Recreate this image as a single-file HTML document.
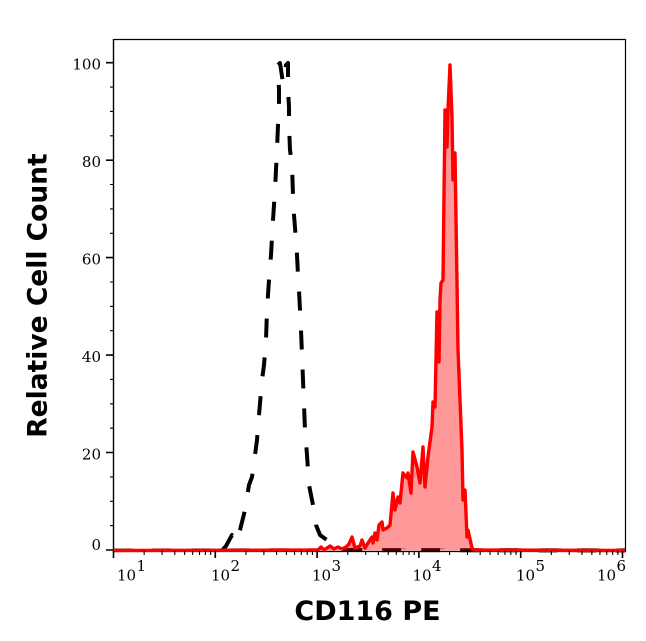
<!DOCTYPE html>
<html><head><meta charset="utf-8"><style>
html,body{margin:0;padding:0;background:#fff;}
svg{display:block;}
.tl{font-family:"DejaVu Serif","Liberation Serif",serif;font-size:15px;fill:#000;}
.ttl{font-family:"DejaVu Sans","Liberation Sans",sans-serif;font-weight:bold;fill:#000;}
</style></head><body>
<svg width="646" height="641" viewBox="0 0 646 641" xmlns="http://www.w3.org/2000/svg">
<rect x="0" y="0" width="646" height="641" fill="#fff"/>
<!-- faint baseline remnant of isotype -->
<line x1="113.5" y1="548.6" x2="625" y2="548.6" stroke="#bbb" stroke-width="1.2" stroke-dasharray="19,20"/>
<!-- black dashed isotype curve -->
<polyline fill="none" stroke="#000" stroke-width="4" stroke-dasharray="19,20" stroke-linejoin="round"
points="222,550.5 226,546 232,535 236,542 240,530 245,510 249,485 252,477 253,470 255,455 257,440 259,415 262,380 264,365 266,340 267,310 269,280 271,255 273,220 275,190 277,150 278,125 279,105 279,90 278,65 280,63 283,83 286,65 288,63 288,90 289,107 289,125 290,150 292,165 293,195 294,215 296,240 297,255 298,275 299,290 300,310 301,330 302,355 303,380 304,405 305,430 307,455 309,485 312,500 315,515 316,525 320,535 327,540 333,546 338,548 345,550 625,550.5"/>
<!-- red filled histogram -->
<polygon fill="#ff0000" fill-opacity="0.4" stroke="none"
points="113.5,550.5 318,550 321,547 324,550 330,546 334,549 338,547 342,549 346,547 349,544 352,537 355,548 360,546 362,540 365,548 368,543 372,537 373,543 375,533 377,540 379,525 382,522 383,530 387,528 390,525 393,493 395,510 398,497 400,503 403,473 407,478 408,473 411,493 413,452 417,467 420,483 423,447 425,487 428,457 432,427 433,402 435,407 437,312 439,362 440,300 441,283 443,280 445,110 447,147 448,110 450,65 452,117 453,180 455,153 457,283 458,350 462,450 463,500 465,490 467,537 468,530 472,548 474,550 625,550.5"/>
<!-- axis lines -->
<line x1="113.5" y1="39.5" x2="625.5" y2="39.5" stroke="#000" stroke-width="1.2"/>
<line x1="625.5" y1="39" x2="625.5" y2="551.5" stroke="#000" stroke-width="1.2"/>
<line x1="113.5" y1="39" x2="113.5" y2="552" stroke="#000" stroke-width="1.4"/>
<line x1="113" y1="551.5" x2="626" y2="551.5" stroke="#000" stroke-width="1.2"/>
<polyline fill="none" stroke="#ff0000" stroke-width="3.4" stroke-linejoin="round"
points="113.5,550.5 318,550 321,547 324,550 330,546 334,549 338,547 342,549 346,547 349,544 352,537 355,548 360,546 362,540 365,548 368,543 372,537 373,543 375,533 377,540 379,525 382,522 383,530 387,528 390,525 393,493 395,510 398,497 400,503 403,473 407,478 408,473 411,493 413,452 417,467 420,483 423,447 425,487 428,457 432,427 433,402 435,407 437,312 439,362 440,300 441,283 443,280 445,110 447,147 448,110 450,65 452,117 453,180 455,153 457,283 458,350 462,450 463,500 465,490 467,537 468,530 472,548 474,550 625,550.5"/>
<!-- y ticks -->
<path stroke="#000" stroke-width="1.6" fill="none" d="M106,550H113.5M106,452.5H113.5M106,355.1H113.5M106,257.6H113.5M106,160.2H113.5M106,62.7H113.5"/>
<path stroke="#000" stroke-width="1.1" fill="none" d="M110,525.6H113.5M110,501.3H113.5M110,476.9H113.5M110,428.2H113.5M110,403.8H113.5M110,379.4H113.5M110,330.7H113.5M110,306.4H113.5M110,282H113.5M110,233.3H113.5M110,208.9H113.5M110,184.5H113.5M110,135.8H113.5M110,111.4H113.5M110,87.1H113.5"/>
<!-- x ticks -->
<path stroke="#000" stroke-width="1.6" fill="none" d="M113.5,551V558M215.3,551V558M317.1,551V558M418.9,551V558M520.7,551V558M622.5,551V558"/>
<path stroke="#000" stroke-width="1.1" fill="none" d="M144.15,551v4M162.07,551v4M174.79,551v4M184.66,551v4M192.72,551v4M199.53,551v4M205.43,551v4M210.64,551v4M245.95,551v4M263.87,551v4M276.59,551v4M286.46,551v4M294.52,551v4M301.33,551v4M307.23,551v4M312.44,551v4M347.75,551v4M365.67,551v4M378.39,551v4M388.26,551v4M396.32,551v4M403.13,551v4M409.03,551v4M414.24,551v4M449.55,551v4M467.47,551v4M480.19,551v4M490.06,551v4M498.12,551v4M504.93,551v4M510.83,551v4M516.04,551v4M551.35,551v4M569.27,551v4M581.99,551v4M591.86,551v4M599.92,551v4M606.73,551v4M612.63,551v4M617.84,551v4"/>
<!-- y labels -->
<text class="tl" x="101" y="69.5" text-anchor="end">100</text>
<text class="tl" x="101" y="167.2" text-anchor="end">80</text>
<text class="tl" x="101" y="264.6" text-anchor="end">60</text>
<text class="tl" x="101" y="362.1" text-anchor="end">40</text>
<text class="tl" x="101" y="459.5" text-anchor="end">20</text>
<text class="tl" x="101" y="550" text-anchor="end">0</text>
<!-- x labels -->
<text class="tl" x="117" y="580.5">10</text><text class="tl" x="136.5" y="571">1</text>
<text class="tl" x="211" y="580.5">10</text><text class="tl" x="230.5" y="571">2</text>
<text class="tl" x="312" y="580.5">10</text><text class="tl" x="331.5" y="571">3</text>
<text class="tl" x="412.5" y="580.5">10</text><text class="tl" x="432" y="571">4</text>
<text class="tl" x="516" y="580.5">10</text><text class="tl" x="535.5" y="571">5</text>
<text class="tl" x="597" y="580.5">10</text><text class="tl" x="616.5" y="571">6</text>
<!-- titles -->
<text class="ttl" x="367.5" y="620" text-anchor="middle" font-size="27">CD116 PE</text>
<text class="ttl" transform="translate(46.5,295.5) rotate(-90)" text-anchor="middle" font-size="26.5">Relative Cell Count</text>
</svg>
</body></html>
